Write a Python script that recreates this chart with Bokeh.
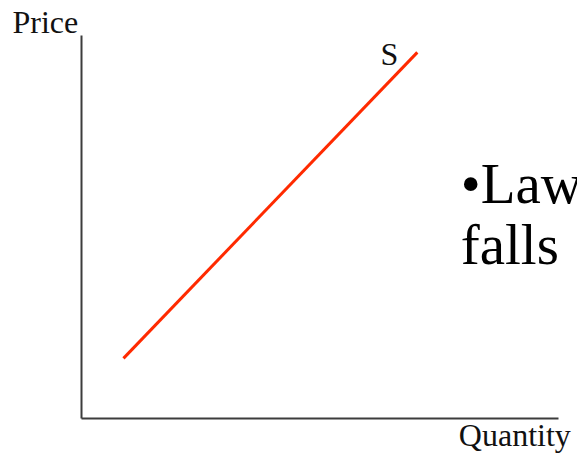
from bokeh.plotting import figure
from bokeh.models import Label, Range1d, LinearAxis
from bokeh.embed import file_html
from bokeh.resources import INLINE

# Supply curve end points (quantity, price) in arbitrary units 0..10
supply_quantity = [0.88, 7.04]
supply_price = [1.57, 9.56]
axis_bounds = (0, 10)
supply_label = "S"
y_axis_title = "Price"
x_axis_title = "Quantity"
side_text = ["•Law", "falls"]

p = figure(width=577, height=457, output_backend="svg", toolbar_location=None,
           x_range=Range1d(-1.698, 10.398), y_range=Range1d(-1.018, 10.914),
           x_axis_location=None, y_axis_location=None, min_border=0)
p.background_fill_color = "white"
p.border_fill_color = "white"
p.outline_line_color = None
p.grid.visible = False

for side in ("below", "left"):
    ax = LinearAxis(fixed_location=0, bounds=axis_bounds)
    ax.major_tick_out = 0
    ax.major_tick_in = 0
    ax.minor_tick_out = 0
    ax.minor_tick_in = 0
    ax.major_label_text_font_size = "0px"
    ax.major_label_standoff = 0
    ax.axis_line_color = "#3c3c3c"
    ax.axis_line_width = 2
    p.add_layout(ax, side)

p.line(supply_quantity, supply_price, line_color="#ff2a00", line_width=3)

font = "Liberation Serif"
p.add_layout(Label(x=6.27, y=9.53, text=supply_label, text_font=font,
                   text_font_size="32px", text_color="#111111",
                   text_baseline="alphabetic"))
p.add_layout(Label(x=-1.447, y=10.36, text=y_axis_title, text_font=font,
                   text_font_size="32px", text_color="#111111",
                   text_baseline="alphabetic"))
p.add_layout(Label(x=7.91, y=-0.423, text=x_axis_title, text_font=font,
                   text_font_size="32px", text_color="#111111",
                   text_baseline="alphabetic"))
p.add_layout(Label(x=7.95, y=6.13, text=side_text[0], text_font=font,
                   text_font_size="57px", text_color="black",
                   text_baseline="alphabetic"))
p.add_layout(Label(x=7.95, y=4.55, text=side_text[1], text_font=font,
                   text_font_size="57px", text_color="black",
                   text_baseline="alphabetic"))

open("out.html", "w").write(file_html(p, INLINE))
